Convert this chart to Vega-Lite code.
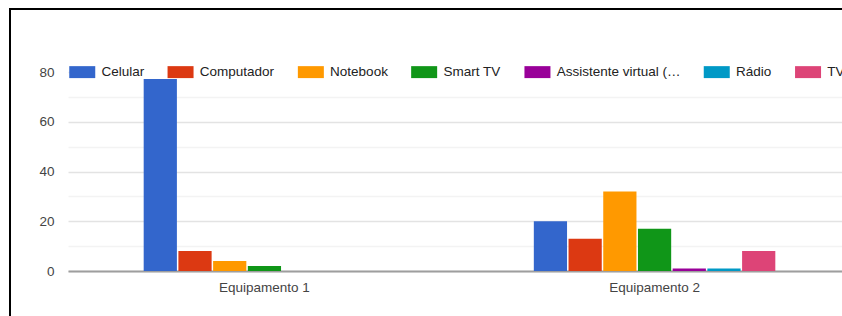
{
  "$schema": "https://vega.github.io/schema/vega-lite/v6.json",
  "width": 832,
  "height": 307,
  "autosize": {"type": "none"},
  "padding": {"left": 10, "top": 9, "right": 0, "bottom": 0},
  "background": "white",
  "config": {
    "font": "Liberation Sans",
    "view": {"stroke": "#000000", "strokeWidth": 2, "strokeDash": [832, 1139, 307, 40]}
  },
  "data": {
    "values": [
      {"equip": "Equipamento 1", "tipo": "Celular", "valor": 78},
      {"equip": "Equipamento 1", "tipo": "Computador", "valor": 8},
      {"equip": "Equipamento 1", "tipo": "Notebook", "valor": 4},
      {"equip": "Equipamento 1", "tipo": "Smart TV", "valor": 2},
      {"equip": "Equipamento 2", "tipo": "Celular", "valor": 20},
      {"equip": "Equipamento 2", "tipo": "Computador", "valor": 13},
      {"equip": "Equipamento 2", "tipo": "Notebook", "valor": 32},
      {"equip": "Equipamento 2", "tipo": "Smart TV", "valor": 17},
      {"equip": "Equipamento 2", "tipo": "Assistente virtual (Alexa, Google Home)", "valor": 1},
      {"equip": "Equipamento 2", "tipo": "Rádio", "valor": 1},
      {"equip": "Equipamento 2", "tipo": "TV", "valor": 8}
    ]
  },
  "mark": {"type": "bar"},
  "encoding": {
    "x": {
      "field": "equip",
      "type": "nominal",
      "scale": {"range": [58, 841], "paddingInner": 0.381, "paddingOuter": 0.194},
      "axis": {
        "title": null,
        "orient": "bottom",
        "offset": -45,
        "labelAngle": 0,
        "ticks": false,
        "grid": false,
        "domainColor": "#9e9e9e",
        "domainWidth": 2,
        "labelPadding": 9,
        "labelFontSize": 13.5,
        "labelColor": "#444444"
      }
    },
    "xOffset": {
      "field": "tipo",
      "type": "nominal",
      "scale": {
        "domain": ["Celular", "Computador", "Notebook", "Smart TV", "Assistente virtual (Alexa, Google Home)", "Rádio", "TV"],
        "paddingInner": 0.043,
        "paddingOuter": 0
      }
    },
    "y": {
      "field": "valor",
      "type": "quantitative",
      "scale": {"domain": [0, 80], "range": [262, 63], "nice": false, "zero": true},
      "axis": {
        "title": null,
        "orient": "left",
        "offset": -58,
        "values": [0, 10, 20, 30, 40, 50, 60, 70, 80],
        "labelExpr": "datum.value % 20 === 0 ? datum.label : ''",
        "grid": true,
        "gridColor": {"condition": {"test": "datum.value % 20 === 10", "value": "#f3f3f3"}, "value": "#e3e3e3"},
        "gridWidth": 1.5,
        "ticks": false,
        "domain": false,
        "labelPadding": 14,
        "labelFontSize": 13.5,
        "labelColor": "#444444"
      }
    },
    "color": {
      "field": "tipo",
      "type": "nominal",
      "scale": {
        "domain": ["Celular", "Computador", "Notebook", "Smart TV", "Assistente virtual (Alexa, Google Home)", "Rádio", "TV"],
        "range": ["#3366cc", "#dc3912", "#ff9900", "#109618", "#990099", "#0099c6", "#dd4477"]
      },
      "legend": {
        "title": null,
        "orient": "none",
        "legendX": 65.5,
        "legendY": 56,
        "direction": "horizontal",
        "columns": 7,
        "columnPadding": 22.3,
        "symbolType": "M-2,-0.92H2V0.92H-2Z",
        "symbolSize": 169,
        "symbolStrokeWidth": 0,
        "labelOffset": 12.5,
        "labelLimit": 125,
        "labelFontSize": 13.5,
        "labelColor": "#222222",
        "fillColor": "white",
        "padding": 0
      }
    }
  }
}
